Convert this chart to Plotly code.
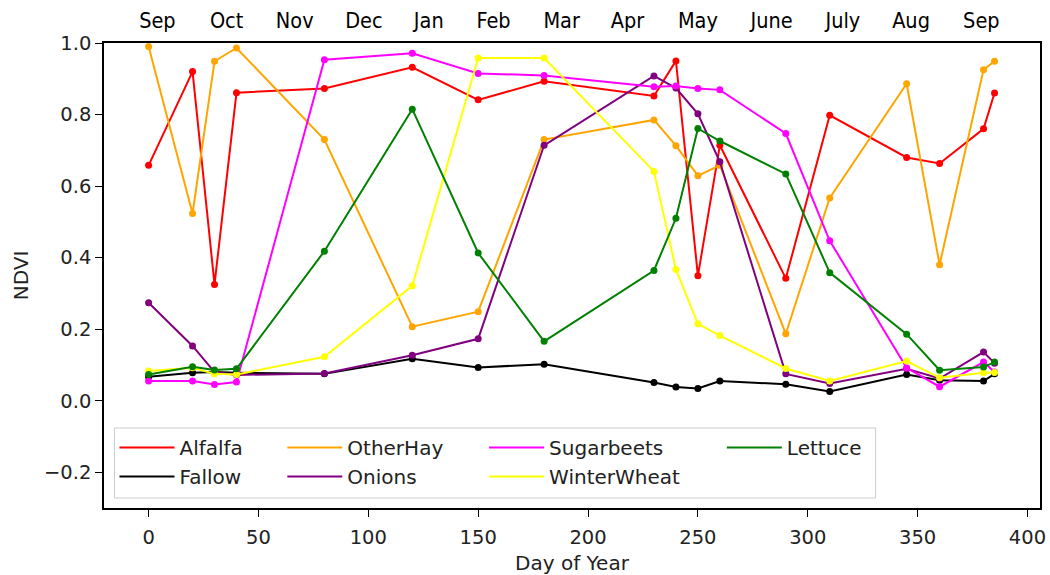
import plotly.graph_objects as go

# Day of year of each observation (shared by all crops)
doy = [0, 20, 30, 40, 80, 120, 150, 180, 230, 240, 250, 260, 290, 310, 345, 360, 380, 385]

# NDVI per crop type
alfalfa = [0.658, 0.920, 0.325, 0.861, 0.873, 0.932, 0.841, 0.893, 0.852, 0.950,
           0.349, 0.714, 0.342, 0.798, 0.680, 0.663, 0.760, 0.860]
fallow = [0.067, 0.078, 0.080, 0.078, 0.075, 0.117, 0.093, 0.102, 0.051, 0.038,
          0.034, 0.055, 0.046, 0.026, 0.073, 0.057, 0.055, 0.075]
other_hay = [0.990, 0.523, 0.949, 0.986, 0.730, 0.207, 0.249, 0.730, 0.785, 0.713,
             0.629, 0.658, 0.187, 0.567, 0.886, 0.380, 0.925, 0.949]
onions = [0.274, 0.153, 0.080, 0.072, 0.076, 0.127, 0.173, 0.714, 0.908, 0.874,
          0.802, 0.668, 0.075, 0.048, 0.089, 0.062, 0.136, 0.105]
sugarbeets = [0.055, 0.055, 0.045, 0.052, 0.953, 0.971, 0.915, 0.909, 0.878, 0.880,
              0.873, 0.869, 0.747, 0.447, 0.092, 0.039, 0.108, 0.080]
winter_wheat = [0.083, 0.092, 0.075, 0.073, 0.123, 0.321, 0.958, 0.958, 0.641, 0.367,
                0.215, 0.182, 0.090, 0.055, 0.111, 0.064, 0.078, 0.079]
lettuce = [0.073, 0.095, 0.086, 0.089, 0.418, 0.815, 0.413, 0.166, 0.364, 0.510,
           0.761, 0.726, 0.634, 0.358, 0.186, 0.085, 0.094, 0.108]

# Month labels on the top axis
month_pos = [4, 35.5, 66.5, 98, 127.5, 157, 188, 218, 250, 283.5, 316, 347, 379]
month_labels = ["Sep", "Oct", "Nov", "Dec", "Jan", "Feb", "Mar", "Apr", "May",
                "June", "July", "Aug", "Sep"]

x_ticks = [0, 50, 100, 150, 200, 250, 300, 350, 400]
y_ticks = [-0.2, 0.0, 0.2, 0.4, 0.6, 0.8, 1.0]

# (name, values, colour, legend column) in drawing order
series = [
    ("Alfalfa", alfalfa, "#ff0000", "legend"),
    ("Fallow", fallow, "#000000", "legend"),
    ("OtherHay", other_hay, "#ffa500", "legend2"),
    ("Onions", onions, "#800080", "legend2"),
    ("Sugarbeets", sugarbeets, "#ff00ff", "legend3"),
    ("WinterWheat", winter_wheat, "#ffff00", "legend3"),
    ("Lettuce", lettuce, "#008000", "legend4"),
]

FONT = "DejaVu Sans"
TEXT = "#222222"

fig = go.Figure()
for name, vals, color, leg in series:
    fig.add_trace(go.Scatter(
        x=doy, y=vals, mode="lines", name=name, legend=leg,
        line=dict(color=color, width=2),
    ))
    fig.add_trace(go.Scatter(
        x=doy, y=vals, mode="markers", showlegend=False, hoverinfo="skip",
        marker=dict(color=color, size=7, line=dict(width=0)),
    ))

# invisible trace that carries the top month axis
fig.add_trace(go.Scatter(
    x=month_pos, y=[None] * len(month_pos), xaxis="x2", mode="markers",
    showlegend=False, hoverinfo="skip", marker=dict(opacity=0),
))

# legend columns share one framed box
leg_box = dict(x0=0.0112, x1=0.8244, y0=0.0215, y1=0.172)
col_x = [0.0112, 0.1905, 0.4061, 0.6601]


def legend_col(x):
    return dict(
        orientation="v", x=x, y=leg_box["y1"], xanchor="left", yanchor="top",
        bgcolor="rgba(0,0,0,0)", borderwidth=0, itemwidth=55,
        tracegroupgap=0, font=dict(family=FONT, size=20, color=TEXT),
    )


fig.update_layout(
    width=1050, height=575,
    margin=dict(l=104, r=10, t=43, b=67),
    paper_bgcolor="white", plot_bgcolor="white",
    font=dict(family=FONT, size=20, color="#000000"),
    showlegend=True,
    xaxis=dict(
        range=[-20.3, 405.7], tickmode="array", tickvals=x_ticks,
        ticks="outside", ticklen=7, tickwidth=1.3, tickcolor="#000000",
        showline=True, linecolor="#000000", linewidth=1.5, mirror=True,
        showgrid=False, zeroline=False, ticklabelstandoff=4, automargin=False,
        tickfont=dict(family=FONT, size=19.5, color=TEXT),
        title=dict(text="Day of Year", font=dict(family=FONT, size=20, color=TEXT),
                   standoff=10),
    ),
    xaxis2=dict(
        overlaying="x", side="top", anchor="y", automargin=False,
        range=[-20.3, 405.7], tickmode="array", tickvals=month_pos, ticktext=month_labels,
        ticks="", showline=False, showgrid=False, zeroline=False,
        ticklabelstandoff=10,
        tickfont=dict(family="Liberation Sans Narrow, DejaVu Sans Condensed, DejaVu Sans",
                      size=21.5, color="#000000"),
    ),
    yaxis=dict(
        range=[-0.3, 1.0], tickmode="array", tickvals=y_ticks, tickformat=".1f",
        ticks="outside", ticklen=7, tickwidth=1.3, tickcolor="#000000",
        showline=True, linecolor="#000000", linewidth=1.5, mirror=True,
        showgrid=False, zeroline=False, automargin=False,
        tickfont=dict(family=FONT, size=19.5, color=TEXT),
        title=dict(text="NDVI", font=dict(family=FONT, size=20, color=TEXT),
                   standoff=10),
    ),
    legend=legend_col(col_x[0]),
    legend2=legend_col(col_x[1]),
    legend3=legend_col(col_x[2]),
    legend4=legend_col(col_x[3]),
    shapes=[dict(
        type="rect", xref="paper", yref="paper", layer="above",
        x0=leg_box["x0"], x1=leg_box["x1"], y0=leg_box["y0"], y1=leg_box["y1"],
        line=dict(color="#cccccc", width=1), fillcolor="rgba(255,255,255,0.8)",
    )],
)

fig.write_html("out.html")
